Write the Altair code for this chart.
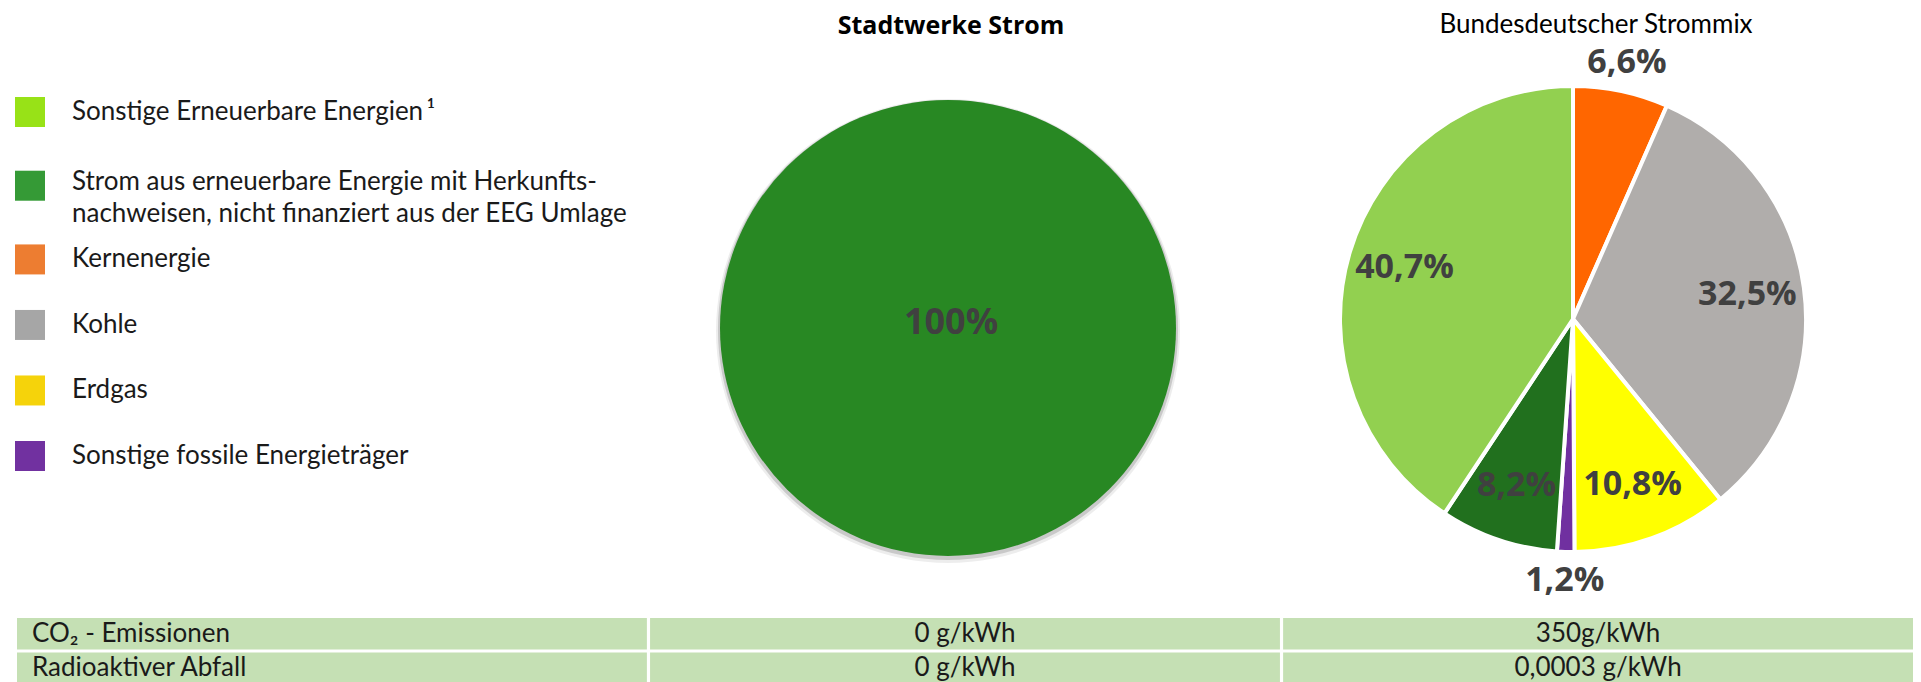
import altair as alt
import pandas as pd

# ---------------- data ----------------
categories = [
    "Sonstige Erneuerbare Energien",
    "Erneuerbare mit Herkunftsnachweisen",
    "Kernenergie",
    "Kohle",
    "Erdgas",
    "Sonstige fossile Energieträger",
]
legend_labels = [
    "Sonstige Erneuerbare Energien\u2009¹",
    "Strom aus erneuerbare Energie mit Herkunfts-\nnachweisen, nicht finanziert aus der EEG Umlage",
    "Kernenergie",
    "Kohle",
    "Erdgas",
    "Sonstige fossile Energieträger",
]
legend_colors = ["#98e217", "#359a36", "#ed7d31", "#a6a6a6", "#f5d30b", "#7131a0"]

stadtwerke_categories = ["Erneuerbare mit Herkunftsnachweisen"]
stadtwerke_values = [100]
stadtwerke_colors = ["#288823"]

bund_categories = [
    "Kernenergie",
    "Kohle",
    "Erdgas",
    "Sonstige fossile Energieträger",
    "Erneuerbare mit Herkunftsnachweisen",
    "Sonstige Erneuerbare Energien",
]
bund_values = [6.6, 32.5, 10.8, 1.2, 8.2, 40.7]
bund_colors = ["#ff6600", "#b0adab", "#ffff00", "#7030a0", "#21701e", "#92d050"]

titles = ["Stadtwerke Strom", "Bundesdeutscher Strommix"]

table_columns = ["Kennzahl", "Stadtwerke Strom", "Bundesdeutscher Strommix"]
table_row_labels = ["CO₂ - Emissionen", "Radioaktiver Abfall"]
table_stadtwerke = ["0 g/kWh", "0 g/kWh"]
table_bund = ["350g/kWh", "0,0003 g/kWh"]

# ---------------- layout / style ----------------
W, H = 1905, 674
PIE1_CX, PIE1_CY, PIE1_R = 940, 320, 228
PIE2_CX, PIE2_CY, PIE2_R = 1565, 311, 233
LABEL_COLOR = "#404040"
TEXT_COLOR = "#1a1a1a"
EXTRA_LINE = 0.25  # extra legend slot height per additional text line


def de_pct(v):
    s = f"{v:.1f}".replace(".", ",")
    if s.endswith(",0"):
        s = s[:-2]
    return s + "%"


# ---------------- legend ----------------
n_lines = [lab.count("\n") + 1 for lab in legend_labels]
pos_text, pos_square = [], []
acc = 0.0
for i, n in enumerate(n_lines):
    sq = i + acc + EXTRA_LINE * (n - 1) / 2
    pos_square.append(sq)
    pos_text.append(sq - EXTRA_LINE * (n - 1) * 0.2)
    acc += EXTRA_LINE * (n - 1)
leg_df = pd.DataFrame({"cat": categories, "label": legend_labels,
                       "pos_text": pos_text, "pos_square": pos_square})
leg_scale = alt.Scale(domain=[0, max(pos_square)], range=[104, 448], zero=False, nice=False)

leg_squares = alt.Chart(leg_df).mark_square(size=900, opacity=1).encode(
    x=alt.value(22),
    y=alt.Y("pos_square:Q", axis=None, scale=leg_scale),
    color=alt.Color("cat:N", scale=alt.Scale(domain=categories, range=legend_colors), legend=None),
)
leg_text = (
    alt.Chart(leg_df)
    .transform_calculate(lines="split(datum.label, '\\n')")
    .mark_text(align="left", baseline="top", dy=-13, fontSize=26, font="Lato",
               lineHeight=32, color=TEXT_COLOR)
    .encode(x=alt.value(64), y=alt.Y("pos_text:Q", axis=None, scale=leg_scale), text="lines:N")
)
legend_group = alt.layer(leg_squares, leg_text)

# ---------------- pie 1 ----------------
p1_df = pd.DataFrame({
    "cat": stadtwerke_categories,
    "value": stadtwerke_values,
    "label": [de_pct(v) for v in stadtwerke_values],
})
p1_base = alt.Chart(p1_df).encode(
    theta=alt.Theta("value:Q", stack=True),
    x=alt.value(PIE1_CX),
    y=alt.value(PIE1_CY),
)
p1_shadow_a = p1_base.mark_arc(outerRadius=PIE1_R + 4, color="#000000", opacity=0.07).encode(
    y=alt.value(PIE1_CY + 3))
p1_shadow_b = p1_base.mark_arc(outerRadius=PIE1_R + 2, color="#000000", opacity=0.15).encode(
    y=alt.value(PIE1_CY + 2))
p1_arc = p1_base.mark_arc(outerRadius=PIE1_R).encode(
    color=alt.Color("cat:N", scale=alt.Scale(domain=stadtwerke_categories, range=stadtwerke_colors),
                    legend=None)
)
p1_text = alt.Chart(p1_df).mark_text(
    font="Open Sans", fontWeight="bold", fontSize=36, color=LABEL_COLOR,
    align="center", baseline="middle", dy=-5, dx=3,
).encode(x=alt.value(PIE1_CX), y=alt.value(PIE1_CY), text="label:N")
pie1_group = alt.layer(p1_shadow_a, p1_shadow_b, p1_arc, p1_text)

# ---------------- pie 2 ----------------
p2_df = pd.DataFrame({
    "cat": bund_categories,
    "value": bund_values,
    "order": list(range(len(bund_values))),
    "label": [de_pct(v) for v in bund_values],
})
p2_base = alt.Chart(p2_df).encode(
    theta=alt.Theta("value:Q", stack=True),
    order=alt.Order("order:Q"),
    x=alt.value(PIE2_CX),
    y=alt.value(PIE2_CY),
)
p2_arcs = p2_base.mark_arc(outerRadius=PIE2_R, stroke="white", strokeWidth=4).encode(
    color=alt.Color("cat:N", scale=alt.Scale(domain=bund_categories, range=bund_colors), legend=None)
)
lab_style = dict(font="Open Sans", fontWeight="bold", fontSize=34, color=LABEL_COLOR,
                 align="center", baseline="middle")
p2_lab_in = p2_base.mark_text(**lab_style).encode(
    radius=alt.value(176),
    detail="cat:N",
    text=alt.condition("datum.value >= 7", alt.Text("label:N"), alt.value("")),
)
p2_lab_out = p2_base.mark_text(**lab_style).encode(
    radius=alt.value(262),
    detail="cat:N",
    text=alt.condition("datum.value < 7", alt.Text("label:N"), alt.value("")),
)
pie2_group = alt.layer(p2_arcs, p2_lab_in, p2_lab_out)

# ---------------- titles ----------------
t1 = alt.Chart(pd.DataFrame({"t": [titles[0]]})).mark_text(
    font="Open Sans", fontWeight="bold", fontSize=25, color="#000000",
    align="center", baseline="middle",
).encode(x=alt.value(943), y=alt.value(18), text="t:N")
t2 = alt.Chart(pd.DataFrame({"t": [titles[1]]})).mark_text(
    font="Lato", fontSize=26, color="#000000", align="center", baseline="middle",
).encode(x=alt.value(1588), y=alt.value(17), text="t:N")

# ---------------- table ----------------
cells = []
for lab, sw, bd in zip(table_row_labels, table_stadtwerke, table_bund):
    cells.append({"row": lab, "col": table_columns[0], "text": lab})
    cells.append({"row": lab, "col": table_columns[1], "text": sw})
    cells.append({"row": lab, "col": table_columns[2], "text": bd})
tab_df = pd.DataFrame(cells)

tab_scale_x = alt.Scale(type="band", domain=table_columns, range=[9, W],
                        paddingInner=0.005, paddingOuter=0)
tab_scale_y = alt.Scale(type="band", domain=table_row_labels, range=[610, 676],
                        paddingInner=0.09, paddingOuter=0)
tab_rects = alt.Chart(tab_df).mark_rect(color="#c5e0b4").encode(
    x=alt.X("col:N", axis=None, scale=tab_scale_x),
    y=alt.Y("row:N", axis=None, scale=tab_scale_y),
)
tab_text_left = alt.Chart(tab_df).transform_filter(
    alt.datum.col == table_columns[0]
).mark_text(align="left", baseline="middle", dx=15, fontSize=26, font="Lato",
            color=TEXT_COLOR).encode(
    x=alt.X("col:N", axis=None, scale=tab_scale_x, bandPosition=0),
    y=alt.Y("row:N", axis=None, scale=tab_scale_y),
    text="text:N",
)
tab_text_center = alt.Chart(tab_df).transform_filter(
    alt.datum.col != table_columns[0]
).mark_text(align="center", baseline="middle", fontSize=26, font="Lato",
            color=TEXT_COLOR).encode(
    x=alt.X("col:N", axis=None, scale=tab_scale_x),
    y=alt.Y("row:N", axis=None, scale=tab_scale_y),
    text="text:N",
)
table_group = alt.layer(tab_rects, tab_text_left, tab_text_center)

chart = (
    alt.layer(legend_group, pie1_group, pie2_group, t1, t2, table_group)
    .resolve_scale(x="independent", y="independent", theta="independent", color="independent")
    .properties(width=W, height=H, autosize="none", padding=0, background="white")
    .configure_view(stroke=None)
)

chart.save("out.html", embed_options={"renderer": "svg", "actions": False})
